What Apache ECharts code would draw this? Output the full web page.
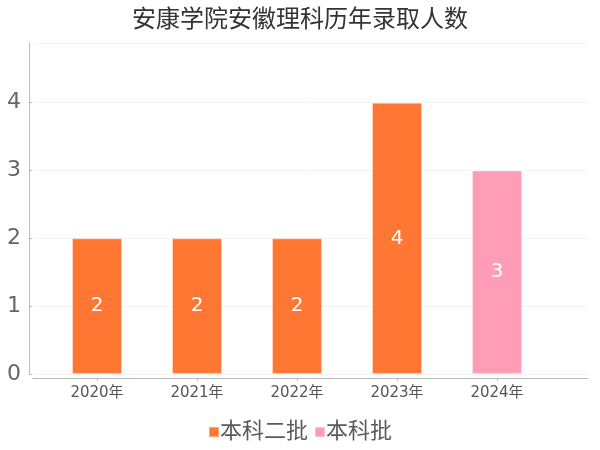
<!DOCTYPE html>
<html>
<head>
<meta charset="utf-8">
<script src="https://cdn.jsdelivr.net/npm/echarts@6/dist/echarts.min.js"></script>
<style>
  html, body { margin: 0; padding: 0; background: #fff; }
  #chart { width: 600px; height: 450px; }
</style>
</head>
<body>
<div id="chart"></div>
<script>
// 年份、两个批次的录取人数
var years = ['2020年', '2021年', '2022年', '2023年', '2024年']
var erPi = [2, 2, 2, 4, null]     // 本科二批
var benKePi = [null, null, null, null, 3]  // 本科批
var yTicks = [0, 1, 2, 3, 4]

var FONT = 'DejaVu Sans, Noto Sans CJK SC, sans-serif'

function toPairs(arr) {
  var out = []
  arr.forEach(function (v, i) {
    if (v !== null) out.push([i, v])
  })
  return out
}

var myChart = echarts.init(document.getElementById('chart'))
myChart.setOption({
  animation: false,
  textStyle: { fontFamily: FONT },
  title: {
    text: '安康学院安徽理科历年录取人数',
    left: 'center',
    top: 4,
    textStyle: { fontSize: 24, fontWeight: 'normal', color: '#333', fontFamily: FONT }
  },
  legend: {
    bottom: 2,
    left: 'center',
    itemWidth: 10,
    itemHeight: 10,
    itemGap: 6,
    icon: 'rect',
    textStyle: { fontSize: 22, color: '#5a5a5a', fontFamily: FONT, padding: [0, 0, 0, -4] },
    data: ['本科二批', '本科批']
  },
  grid: { left: 33, right: 12, top: 43, bottom: 76, containLabel: false },
  xAxis: {
    type: 'value',
    min: -0.64,
    max: 4.91,
    offset: 4,
    splitLine: { show: false },
    axisLine: { show: true, onZero: false, lineStyle: { color: '#bbb' } },
    axisTick: { show: true, length: 3, lineStyle: { color: '#bbb' }, customValues: yTicks },
    axisLabel: {
      customValues: yTicks,
      fontSize: 15,
      color: '#555',
      margin: 8,
      formatter: function (v) { return years[Math.round(v)] }
    }
  },
  yAxis: {
    type: 'value',
    min: 0,
    max: 4.88,
    interval: 1,
    offset: 4,
    axisLine: { show: true, onZero: false, lineStyle: { color: '#bbb' } },
    axisTick: { show: true, inside: true, length: 3, lineStyle: { color: '#bbb' } },
    axisLabel: {
      fontSize: 22,
      color: '#666',
      margin: 8,
      showMaxLabel: false,
      formatter: function (v) { return yTicks.indexOf(v) >= 0 ? String(v) : '' }
    },
    splitLine: { show: true, lineStyle: { color: '#f3f3f3' } }
  },
  series: [{
    name: '本科二批',
    type: 'bar',
    barWidth: 50,
    barGap: '-100%',
    data: toPairs(erPi),
    itemStyle: { color: '#FF7733', borderColor: 'rgba(255,255,255,0.35)', borderWidth: 1 },
    label: { show: true, position: 'inside', color: '#fff', fontSize: 20, fontFamily: FONT }
  }, {
    name: '本科批',
    type: 'bar',
    barWidth: 50,
    barGap: '-100%',
    data: toPairs(benKePi),
    itemStyle: { color: '#FF9CB6', borderColor: 'rgba(255,255,255,0.35)', borderWidth: 1 },
    label: { show: true, position: 'inside', color: '#fff', fontSize: 20, fontFamily: FONT }
  }]
})
</script>
</body>
</html>
